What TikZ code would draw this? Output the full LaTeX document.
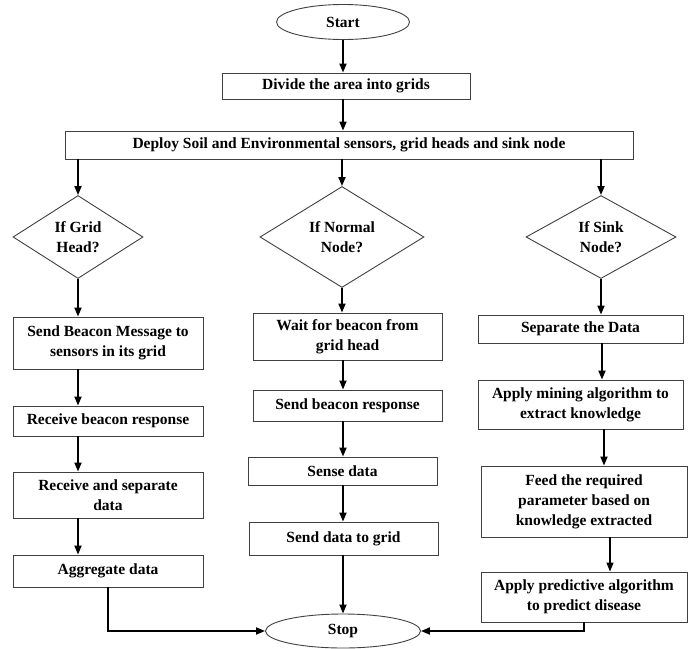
\documentclass[tikz,border=0pt]{standalone}
\usepackage{fontspec}
\setmainfont{Liberation Serif}
\usetikzlibrary{shapes.geometric,arrows.meta}
\tikzset{
  base/.style={draw=black!75, line width=0.9pt, inner sep=1pt, align=center,
    font=\fontsize{15.5}{20}\selectfont\bfseries, text=black},
  boxn/.style={base, rectangle},
  ovaln/.style={base, ellipse},
  decn/.style={base, diamond},
  arr/.style={line width=1.8pt, -{Triangle[length=9pt,width=7pt]}},
  thinarr/.style={line width=1.1pt, -{Triangle[length=9pt,width=7pt]}},
  link/.style={line width=1.8pt}
}
\begin{document}
\begin{tikzpicture}[x=1pt,y=-1pt]
\useasboundingbox (0,0) rectangle (690,648);
% top
\node[ovaln, minimum width=133, minimum height=35] (start) at (343,22) {Start};
\node[boxn, minimum width=248, minimum height=26] (divide) at (346,86) {Divide the area into grids};
\node[boxn, minimum width=568, minimum height=28] (deploy) at (349,145) {Deploy Soil and Environmental sensors, grid heads and sink node};
% decisions
\node[decn, minimum width=130, minimum height=83] (d1) at (78,237) {If Grid\\Head?};
\node[decn, minimum width=164, minimum height=83] (d2) at (342,237) {If Normal\\Node?};
\node[decn, minimum width=150, minimum height=83] (d3) at (601,237) {If Sink\\Node?};
% grid head column
\node[boxn, minimum width=190, minimum height=52] (g1) at (108,343) {Send Beacon Message to\\sensors in its grid};
\node[boxn, minimum width=190, minimum height=30] (g2) at (108,421) {Receive beacon response};
\node[boxn, minimum width=190, minimum height=46] (g3) at (108,495) {Receive and separate\\data};
\node[boxn, minimum width=190, minimum height=32] (g4) at (108,571) {Aggregate data};
% normal node column
\node[boxn, minimum width=189, minimum height=47] (n1) at (347.5,336.5) {Wait for beacon from\\grid head};
\node[boxn, minimum width=189, minimum height=31] (n2) at (347.5,405.5) {Send beacon response};
\node[boxn, minimum width=189, minimum height=28] (n3) at (342.5,471) {Sense data};
\node[boxn, minimum width=189, minimum height=33] (n4) at (343.5,538.5) {Send data to grid};
% sink column
\node[boxn, minimum width=205, minimum height=28] (s1) at (580.5,329) {Separate the Data};
\node[boxn, minimum width=205, minimum height=49] (s2) at (580.5,404.5) {Apply mining algorithm to\\extract knowledge};
\node[boxn, minimum width=206, minimum height=71] (s3) at (584,501.5) {Feed the required\\parameter based on\\knowledge extracted};
\node[boxn, minimum width=206, minimum height=50] (s4) at (584,597) {Apply predictive algorithm\\to predict disease};
% stop
\node[ovaln, minimum width=155, minimum height=34] (stop) at (343,631) {Stop};
% coordinates for arrow columns
\coordinate (cg) at (78,0);
\coordinate (cn) at (343,0);
\coordinate (cs1) at (602,0);
\coordinate (cs2) at (604,0);
\coordinate (cs3) at (610,0);
% connectors
\draw[arr] (start.south -| cn) -- (divide.north -| cn);
\draw[arr] (divide.south -| cn) -- (deploy.north -| cn);
\draw[arr] (deploy.south -| d1.north) -- (d1.north);
\draw[arr] (deploy.south -| d2.north) -- (d2.north);
\draw[arr] (deploy.south -| d3.north) -- (d3.north);
\draw[arr] (d1.south) -- (g1.north -| d1.south);
\draw[arr] (g1.south -| cg) -- (g2.north -| cg);
\draw[arr] (g2.south -| cg) -- (g3.north -| cg);
\draw[arr] (g3.south -| cg) -- (g4.north -| cg);
\draw[arr] (d2.south) -- (n1.north -| d2.south);
\draw[arr] (n1.south -| cn) -- (n2.north -| cn);
\draw[arr] (n2.south -| cn) -- (n3.north -| cn);
\draw[arr] (n3.south -| cn) -- (n4.north -| cn);
\draw[arr] (n4.south -| cn) -- (stop.north -| cn);
\draw[arr] (d3.south) -- (s1.north -| d3.south);
\draw[arr] (s1.south -| cs1) -- (s2.north -| cs1);
\draw[arr] (s2.south -| cs2) -- (s3.north -| cs2);
\draw[thinarr] (s3.south -| cs3) -- (s4.north -| cs3);
\draw[arr] (g4.south) |- (stop.west);
\draw[arr] (s4.south) |- (stop.east);
\end{tikzpicture}
\end{document}
